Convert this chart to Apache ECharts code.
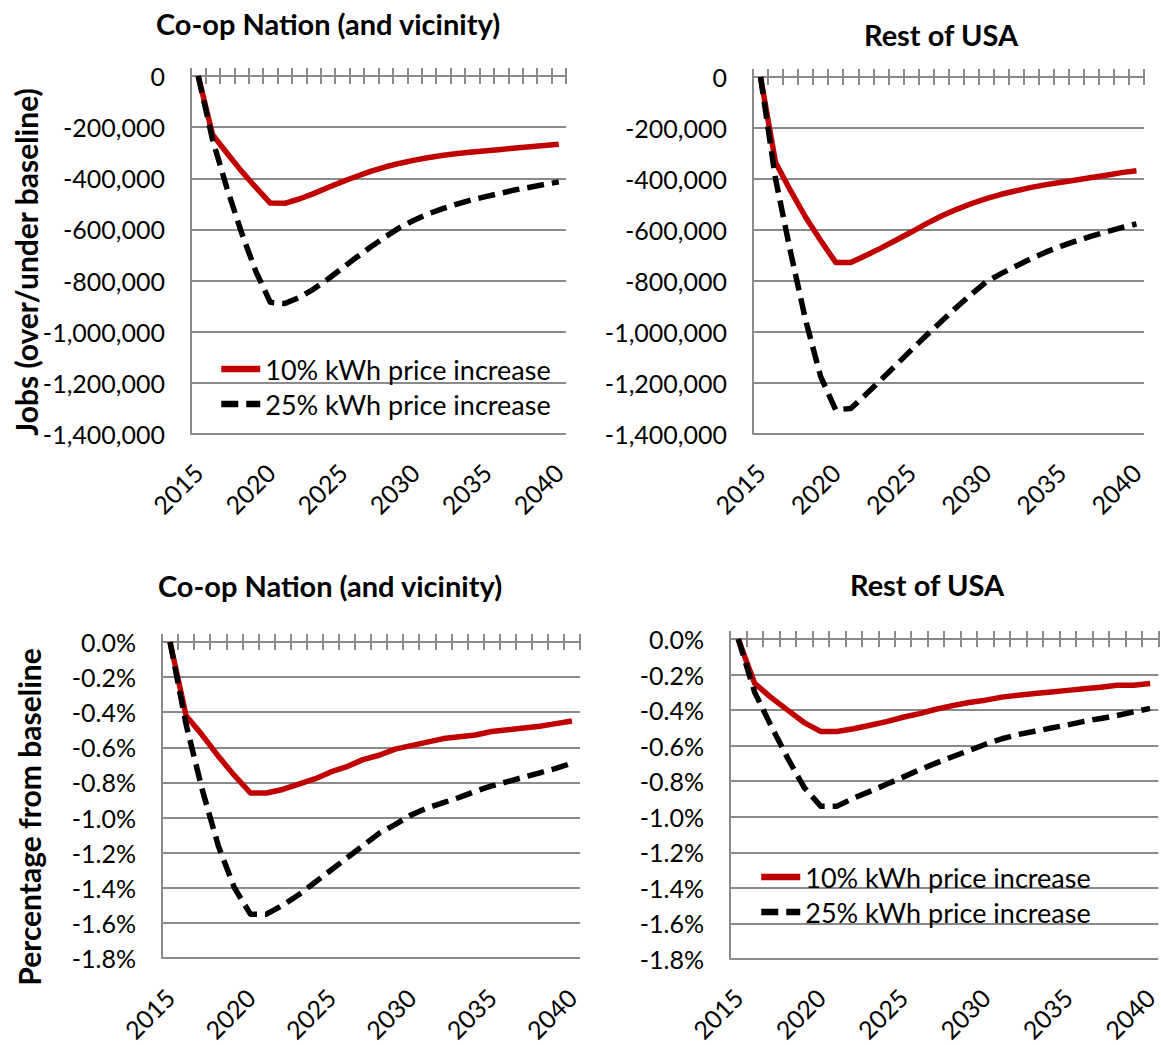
<!DOCTYPE html>
<html>
<head>
<meta charset="utf-8">
<script src="https://cdn.jsdelivr.net/npm/echarts@6/dist/echarts.min.js"></script>
<style>
html,body{margin:0;padding:0;background:#ffffff;}
#chart{width:1161px;height:1045px;}
</style>
</head>
<body>
<div id="chart"></div>
<script>
// ---------------- DATA ----------------
const years = ['2015','2016','2017','2018','2019','2020','2021','2022','2023','2024','2025','2026','2027',
               '2028','2029','2030','2031','2032','2033','2034','2035','2036','2037','2038','2039','2040'];

const seriesNames = ['10% kWh price increase', '25% kWh price increase'];

const panelTitles = ['Co-op Nation (and vicinity)', 'Rest of USA', 'Co-op Nation (and vicinity)', 'Rest of USA'];
const axisNames = ['Jobs (over/under baseline)', 'Percentage from baseline'];

// Jobs (over/under baseline) - Co-op Nation (and vicinity)
const coopJobs10 = [0, -230000, -302000, -372000, -436000, -497000, -498000, -481000, -460000, -436000, -413000,
                    -392000, -372000, -355000, -341000, -329000, -319000, -310000, -303000, -297000, -292000,
                    -287000, -282000, -277000, -272000, -267000];
const coopJobs25 = [0, -250000, -440000, -612000, -765000, -885000, -890000, -866000, -833000, -794000, -751000,
                    -708000, -667000, -628000, -592000, -563000, -538000, -518000, -500000, -484000, -471000,
                    -458000, -445000, -435000, -424000, -414000];

// Jobs (over/under baseline) - Rest of USA
const restJobs10 = [0, -335000, -446000, -550000, -641000, -727000, -727000, -700000, -671000, -640000, -609000,
                    -576000, -546000, -520000, -497000, -477000, -460000, -446000, -433000, -422000, -413000,
                    -404000, -394000, -385000, -375000, -368000];
const restJobs25 = [0, -400000, -687000, -954000, -1175000, -1305000, -1300000, -1245000, -1188000, -1130000, -1072000,
                    -1015000, -960000, -905000, -853000, -804000, -771000, -741000, -712000, -686000, -663000,
                    -643000, -624000, -607000, -591000, -576000];

// Percentage from baseline - Co-op Nation (and vicinity)
const coopPct10 = [0, -0.42, -0.53, -0.65, -0.76, -0.86, -0.86, -0.84, -0.81, -0.78, -0.74,
                   -0.71, -0.67, -0.645, -0.61, -0.59, -0.57, -0.55, -0.54, -0.53, -0.51,
                   -0.50, -0.49, -0.48, -0.465, -0.45];
const coopPct25 = [0, -0.47, -0.84, -1.16, -1.40, -1.55, -1.55, -1.50, -1.44, -1.37, -1.30,
                   -1.23, -1.16, -1.09, -1.04, -0.985, -0.945, -0.915, -0.885, -0.85, -0.82,
                   -0.795, -0.77, -0.745, -0.72, -0.69];

// Percentage from baseline - Rest of USA
const restPct10 = [0, -0.25, -0.33, -0.40, -0.47, -0.52, -0.52, -0.505, -0.485, -0.465, -0.44,
                   -0.42, -0.395, -0.375, -0.357, -0.344, -0.327, -0.316, -0.307, -0.298, -0.289,
                   -0.28, -0.271, -0.26, -0.26, -0.25];
const restPct25 = [0, -0.30, -0.49, -0.67, -0.835, -0.94, -0.94, -0.895, -0.857, -0.817, -0.777,
                   -0.736, -0.698, -0.662, -0.628, -0.592, -0.561, -0.537, -0.519, -0.501, -0.483,
                   -0.463, -0.447, -0.43, -0.41, -0.39];

// y-axis ranges (min, max, interval)
const jobsAxis = [-1400000, 0, 200000];
const pctAxis = [-1.8, 0, 0.2];

// ---------------- STYLE / LAYOUT ----------------
const FONT = 'Lato, "Open Sans", sans-serif';
const GRAY = '#8a8a8a';
const RED = '#C00000';
const BLACK = '#000000';

const jobsFmt = v => (v === 0 ? '0' : Math.round(v).toLocaleString('en-US'));
const pctFmt = v => (Math.abs(v) < 1e-9 ? '0.0%' : v.toFixed(1) + '%');

const panels = [
  { grid: {left: 191, top: 76, width: 375, height: 358}, axis: jobsAxis, fmt: jobsFmt, s10: coopJobs10, s25: coopJobs25,
    title: {x: 328, y: 23.5}, labelMargin: 34 },
  { grid: {left: 753, top: 77, width: 391, height: 357}, axis: jobsAxis, fmt: jobsFmt, s10: restJobs10, s25: restJobs25,
    title: {x: 941, y: 34}, labelMargin: 34 },
  { grid: {left: 162, top: 642, width: 418, height: 328}, axis: pctAxis, fmt: pctFmt, s10: coopPct10, s25: coopPct25,
    title: {x: 330, y: 585.5}, labelMargin: 35 },
  { grid: {left: 730, top: 639, width: 432, height: 333}, axis: pctAxis, fmt: pctFmt, s10: restPct10, s25: restPct25,
    title: {x: 927, y: 584}, labelMargin: 34 }
];

const grids = [], xAxes = [], yAxes = [], series = [], graphics = [];

panels.forEach((p, k) => {
  grids.push(Object.assign({containLabel: false}, p.grid));

  // bottom axis: labels only
  xAxes.push({
    type: 'category', gridIndex: k, data: years, position: 'bottom', boundaryGap: true,
    axisLine: {show: false, onZero: false}, axisTick: {show: false}, splitLine: {show: false},
    axisLabel: {interval: 4, rotate: 45, margin: p.labelMargin, fontSize: 25, fontFamily: FONT, color: '#000'}
  });
  // top axis line with outward ticks
  xAxes.push({
    type: 'category', gridIndex: k, data: years, position: 'top', boundaryGap: true,
    axisLine: {show: true, onZero: false, lineStyle: {color: GRAY, width: 2}},
    axisTick: {show: true, interval: 0, inside: false, length: 8, lineStyle: {color: GRAY, width: 2}},
    axisLabel: {show: false}, splitLine: {show: false}
  });
  // top axis inward ticks (cross ticks)
  xAxes.push({
    type: 'category', gridIndex: k, data: years, position: 'top', boundaryGap: true,
    axisLine: {show: false, onZero: false},
    axisTick: {show: true, interval: 0, inside: true, length: 8, lineStyle: {color: GRAY, width: 2}},
    axisLabel: {show: false}, splitLine: {show: false}
  });

  yAxes.push({
    type: 'value', gridIndex: k, min: p.axis[0], max: p.axis[1], interval: p.axis[2],
    axisLine: {show: true, onZero: false, lineStyle: {color: GRAY, width: 2}},
    axisTick: {show: false},
    axisLabel: {formatter: p.fmt, margin: 26, fontSize: 25, fontFamily: FONT, color: '#000'},
    splitLine: {show: true, lineStyle: {color: GRAY, width: 2}}
  });

  series.push({
    name: seriesNames[0], type: 'line', xAxisIndex: 3 * k, yAxisIndex: k, data: p.s10,
    symbol: 'none', showSymbol: false, smooth: false,
    lineStyle: {color: RED, width: 5.5, join: 'round'}, itemStyle: {color: RED}, z: 3
  });
  series.push({
    name: seriesNames[1], type: 'line', xAxisIndex: 3 * k, yAxisIndex: k, data: p.s25,
    symbol: 'none', showSymbol: false, smooth: false,
    lineStyle: {color: BLACK, width: 5.5, type: [17, 8], join: 'round'}, itemStyle: {color: BLACK}, z: 4
  });

  graphics.push({
    type: 'text', x: p.title.x, y: p.title.y,
    style: {text: panelTitles[k], font: 'bold 29px ' + FONT, fill: '#000', textAlign: 'center', textVerticalAlign: 'middle'}
  });
});

graphics.push({
  type: 'text', x: 26, y: 262, rotation: Math.PI / 2,
  style: {text: axisNames[0], font: 'bold 30px ' + FONT, fill: '#000', textAlign: 'center', textVerticalAlign: 'middle'}
});
graphics.push({
  type: 'text', x: 29, y: 817, rotation: Math.PI / 2,
  style: {text: axisNames[1], font: 'bold 30px ' + FONT, fill: '#000', textAlign: 'center', textVerticalAlign: 'middle'}
});

const legendBase = {
  orient: 'vertical', data: seriesNames, padding: 0, itemWidth: 39, itemHeight: 1, itemGap: 5,
  selectedMode: false, lineStyle: {width: 6.5},
  itemStyle: {opacity: 0, borderWidth: 0},
  textStyle: {fontSize: 27, fontFamily: FONT, color: '#000', lineHeight: 30}
};

const option = {
  backgroundColor: '#ffffff',
  animation: false,
  grid: grids,
  xAxis: xAxes,
  yAxis: yAxes,
  series: series,
  legend: [
    Object.assign({left: 218, top: 354}, legendBase),
    Object.assign({left: 758, top: 862}, legendBase)
  ],
  graphic: graphics
};

const chart = echarts.init(document.getElementById('chart'), null, {renderer: 'svg'});
chart.setOption(option);
</script>
</body>
</html>
